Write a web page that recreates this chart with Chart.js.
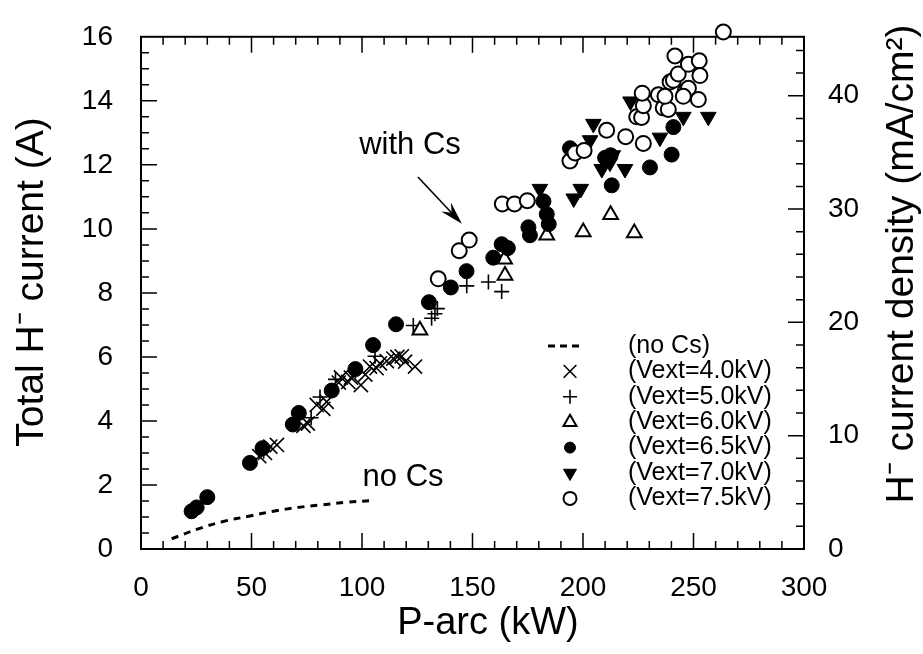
<!DOCTYPE html>
<html>
<head>
<meta charset="utf-8">
<script src="https://cdn.jsdelivr.net/npm/chart.js@4.4.1/dist/chart.umd.min.js"></script>
<style>
  html, body { margin: 0; padding: 0; background: #fff; }
</style>
</head>
<body>
<canvas id="myChart" width="923" height="654"></canvas>
<script>
// valeurs : [P-arc (kW), courant H- (A)]
const noCsLine = [[13.9, 0.32], [25.9, 0.63], [37.2, 0.86], [49.3, 1.03], [59.9, 1.18],
  [71.2, 1.30], [81.8, 1.38], [93.1, 1.46], [105.5, 1.52]];

const vext40 = [[53.5, 2.9], [56.1, 3.0], [58.5, 3.2], [61.5, 3.25], [73.5, 3.85], [75.5, 3.92],
  [79.5, 4.5], [82.5, 4.38], [84, 4.6], [89.5, 5.2], [90.5, 5.36], [93.8, 5.22], [95, 5.35],
  [99.5, 5.12], [101.5, 5.45], [103.6, 5.7], [106.6, 5.65], [108.1, 5.8], [111.2, 5.87],
  [114.2, 5.95], [116, 6.0], [118, 6.02], [119.5, 5.85], [124, 5.7]];

const vext50 = [[55.5, 3.05], [77, 4.1], [81, 4.75], [88, 5.3], [97, 5.55], [105.9, 6.02],
  [123.2, 6.98], [131.5, 7.21], [133, 7.35], [134.1, 7.51], [147.4, 8.22], [157.2, 8.34],
  [163.2, 8.04]];

const vext60 = [[126.2, 6.83], [164.7, 8.54], [164.5, 9.05], [183.6, 9.8], [200.1, 9.9],
  [212.5, 10.44], [223.2, 9.87]];

const vext65 = [[22.9, 1.18], [25.2, 1.3], [30, 1.62], [49.3, 2.69], [55, 3.15], [68.7, 3.89],
  [71.4, 4.25], [86.3, 4.95], [97, 5.62], [105, 6.37], [115.4, 7.02], [130.3, 7.71],
  [140.2, 8.17], [147.3, 8.68], [159.4, 9.1], [163.2, 9.52], [166, 9.4], [175.3, 10.05],
  [176, 9.8], [182.1, 10.86], [183.6, 10.46], [184.5, 10.15], [194.1, 12.52], [210, 12.22],
  [212.5, 12.3], [213, 11.36], [230.3, 11.92], [240.1, 12.32], [240.9, 13.18]];

const vext70 = [[180.5, 11.25], [195.8, 10.95], [199, 11.25], [203.2, 12.77], [204.7, 13.28],
  [208.5, 11.87], [212.2, 12.07], [213.5, 12.3], [219, 11.87], [221.5, 13.98], [234.8, 12.85],
  [245.4, 13.5], [256.7, 13.5]];

const vext75 = [[134.5, 8.44], [144, 9.32], [148.5, 9.65], [163.5, 10.78], [169, 10.78],
  [174.8, 10.88], [194.1, 12.12], [196.4, 12.37], [200.5, 12.45], [210.7, 13.08], [219.3, 12.88],
  [227.3, 12.67], [224.3, 13.5], [226.5, 13.48], [227.3, 13.85], [226.8, 14.24], [234.1, 14.19],
  [236.3, 13.78], [238.6, 13.73], [237.1, 14.14], [239.4, 14.59], [240.9, 14.64], [243.1, 14.84],
  [241.6, 15.4], [247.7, 15.14], [252.6, 15.25], [252.9, 14.79], [246.2, 14.29], [247.7, 14.39],
  [245.4, 14.14], [252.2, 14.04], [263.5, 16.15]];

const xTicks = [0, 50, 100, 150, 200, 250, 300];
const yTicks = [0, 2, 4, 6, 8, 10, 12, 14, 16];
const densityTicks = [0, 10, 20, 30, 40];
const legendLabels = ['(no Cs)', '(Vext=4.0kV)', '(Vext=5.0kV)', '(Vext=6.0kV)',
  '(Vext=6.5kV)', '(Vext=7.0kV)', '(Vext=7.5kV)'];
const AMP_TO_DENSITY = 2.825; // mA/cm2 pour 1 A

const FONT = "'Liberation Sans', Arial, sans-serif";
const pts = arr => arr.map(([x, y]) => ({ x, y }));

// styles des marqueurs (aussi utilisés pour la légende)
const markers = [
  null,
  { pointStyle: 'crossRot', radius: 10, rotation: 0, fill: '#000', lw: 1.6, legendRadius: 9 },
  { pointStyle: 'cross', radius: 7.5, rotation: 0, fill: '#000', lw: 1.6, legendRadius: 7 },
  { pointStyle: 'triangle', radius: 8.5, rotation: 0, fill: '#fff', lw: 2, legendRadius: 7.5 },
  { pointStyle: 'circle', radius: 7.5, rotation: 0, fill: '#000', lw: 1, legendRadius: 5.5 },
  { pointStyle: 'triangle', radius: 9, rotation: 180, fill: '#000', lw: 1, legendRadius: 7.5 },
  { pointStyle: 'circle', radius: 7.5, rotation: 0, fill: '#fff', lw: 2, legendRadius: 6.5 }
];
const seriesData = [noCsLine, vext40, vext50, vext60, vext65, vext70, vext75];

const datasets = [{
  label: legendLabels[0],
  type: 'line',
  data: pts(noCsLine),
  borderColor: '#000',
  borderWidth: 3,
  borderDash: [7, 6],
  pointRadius: 0,
  tension: 0.4,
  fill: false
}];
for (let i = 1; i < seriesData.length; i++) {
  const m = markers[i];
  datasets.push({
    label: legendLabels[i],
    data: pts(seriesData[i]),
    pointStyle: m.pointStyle,
    pointRadius: m.radius,
    rotation: m.rotation,
    backgroundColor: m.fill,
    borderColor: '#000',
    borderWidth: m.lw,
    clip: false
  });
}
// les cercles ouverts passent par-dessus
datasets.reverse();

// cadre et graduations intérieures
const framePlugin = {
  id: 'frame',
  beforeDatasetsDraw(chart) {
    const { ctx, chartArea: a, scales: { x, y, y2 } } = chart;
    ctx.save();
    ctx.strokeStyle = '#000';
    ctx.lineWidth = 2;
    ctx.strokeRect(a.left, a.top, a.right - a.left, a.bottom - a.top);
    ctx.lineWidth = 1.5;
    ctx.beginPath();
    for (let v = 10; v < 300; v += 10) {
      const px = x.getPixelForValue(v);
      const len = v % 50 === 0 ? 16 : 8;
      ctx.moveTo(px, a.bottom); ctx.lineTo(px, a.bottom - len);
      ctx.moveTo(px, a.top); ctx.lineTo(px, a.top + len);
    }
    for (let v = 0.5; v < 16; v += 0.5) {
      const py = y.getPixelForValue(v);
      const len = v % 2 === 0 ? 16 : 8;
      ctx.moveTo(a.left, py); ctx.lineTo(a.left + len, py);
    }
    for (let v = 2; v < 45; v += 2) {
      const py = y2.getPixelForValue(v);
      const len = v % 10 === 0 ? 16 : 8;
      ctx.moveTo(a.right, py); ctx.lineTo(a.right - len, py);
    }
    ctx.stroke();
    ctx.restore();
  }
};

// titres, annotations et légende
const textPlugin = {
  id: 'texts',
  afterDraw(chart) {
    const { ctx, scales: { x, y } } = chart;
    ctx.save();
    ctx.fillStyle = '#000';
    ctx.strokeStyle = '#000';
    ctx.textAlign = 'center';
    ctx.textBaseline = 'middle';

    ctx.font = '38px ' + FONT;
    ctx.fillText('P-arc (kW)', 488, 624);
    ctx.font = '39px ' + FONT;
    ctx.save();
    ctx.translate(32, 282);
    ctx.rotate(-Math.PI / 2);
    ctx.fillText('Total H\u207B current (A)', 0, 0);
    ctx.restore();
    ctx.save();
    ctx.translate(902, 264);
    ctx.rotate(-Math.PI / 2);
    ctx.fillText('H\u207B current density (mA/cm\u00B2)', 0, 0);
    ctx.restore();

    // annotations
    ctx.font = '31px ' + FONT;
    ctx.fillText('with Cs', x.getPixelForValue(121.7), y.getPixelForValue(12.6));
    ctx.fillText('no Cs', x.getPixelForValue(118.6), y.getPixelForValue(2.24));
    const x0 = x.getPixelForValue(125.3), y0 = y.getPixelForValue(11.62);
    const x1 = x.getPixelForValue(145.2), y1 = y.getPixelForValue(10.16);
    const ang = Math.atan2(y1 - y0, x1 - x0);
    ctx.lineWidth = 1.6;
    ctx.beginPath();
    ctx.moveTo(x0, y0);
    ctx.lineTo(x1 - 10 * Math.cos(ang), y1 - 10 * Math.sin(ang));
    ctx.stroke();
    const hl = 24, hw = 0.28;
    ctx.beginPath();
    ctx.moveTo(x1, y1);
    ctx.lineTo(x1 - hl * Math.cos(ang - hw), y1 - hl * Math.sin(ang - hw));
    ctx.lineTo(x1 - 15 * Math.cos(ang), y1 - 15 * Math.sin(ang));
    ctx.lineTo(x1 - hl * Math.cos(ang + hw), y1 - hl * Math.sin(ang + hw));
    ctx.closePath();
    ctx.fill();

    // légende
    const symX = 570, txtX = 628, row0 = 346, rowH = 25.4;
    ctx.textAlign = 'left';
    ctx.font = '25px ' + FONT;
    legendLabels.forEach((lab, i) => {
      const ry = row0 + i * rowH;
      ctx.fillText(lab, txtX, ry);
      if (i === 0) {
        ctx.lineWidth = 3;
        ctx.setLineDash([7, 5]);
        ctx.beginPath();
        ctx.moveTo(548, ry); ctx.lineTo(584, ry);
        ctx.stroke();
        ctx.setLineDash([]);
        return;
      }
      const m = markers[i];
      ctx.fillStyle = m.fill;
      ctx.lineWidth = m.lw;
      Chart.helpers.drawPoint(ctx, {
        pointStyle: m.pointStyle, rotation: m.rotation,
        radius: m.legendRadius, borderWidth: m.lw
      }, symX, ry);
      ctx.fillStyle = '#000';
    });
    ctx.restore();
  }
};

const tickFont = { family: FONT, size: 28 };
const ctx = document.getElementById('myChart').getContext('2d');
const myChart = new Chart(ctx, {
  type: 'scatter',
  data: { datasets },
  options: {
    responsive: false,
    animation: false,
    devicePixelRatio: 1,
    layout: { padding: { top: 20, left: 0, right: 0, bottom: 0 } },
    plugins: { legend: { display: false }, tooltip: { enabled: false } },
    scales: {
      x: {
        type: 'linear', position: 'bottom', min: 0, max: 300,
        grid: { display: false }, border: { display: false },
        afterBuildTicks: s => { s.ticks = xTicks.map(v => ({ value: v })); },
        afterFit: s => { s.height = 105; },
        ticks: { font: tickFont, color: '#000', padding: 14, maxRotation: 0, autoSkip: false }
      },
      y: {
        type: 'linear', position: 'left', min: 0, max: 16,
        grid: { display: false }, border: { display: false },
        afterBuildTicks: s => { s.ticks = yTicks.map(v => ({ value: v })); },
        afterFit: s => { s.width = 141; },
        ticks: { font: tickFont, color: '#000', padding: 20, autoSkip: false }
      },
      y2: {
        type: 'linear', position: 'right', min: 0, max: 16 * AMP_TO_DENSITY,
        grid: { display: false }, border: { display: false },
        afterBuildTicks: s => { s.ticks = densityTicks.map(v => ({ value: v })); },
        afterFit: s => { s.width = 119; },
        ticks: { font: tickFont, color: '#000', padding: 16, autoSkip: false }
      }
    }
  },
  plugins: [framePlugin, textPlugin]
});
</script>
</body>
</html>
